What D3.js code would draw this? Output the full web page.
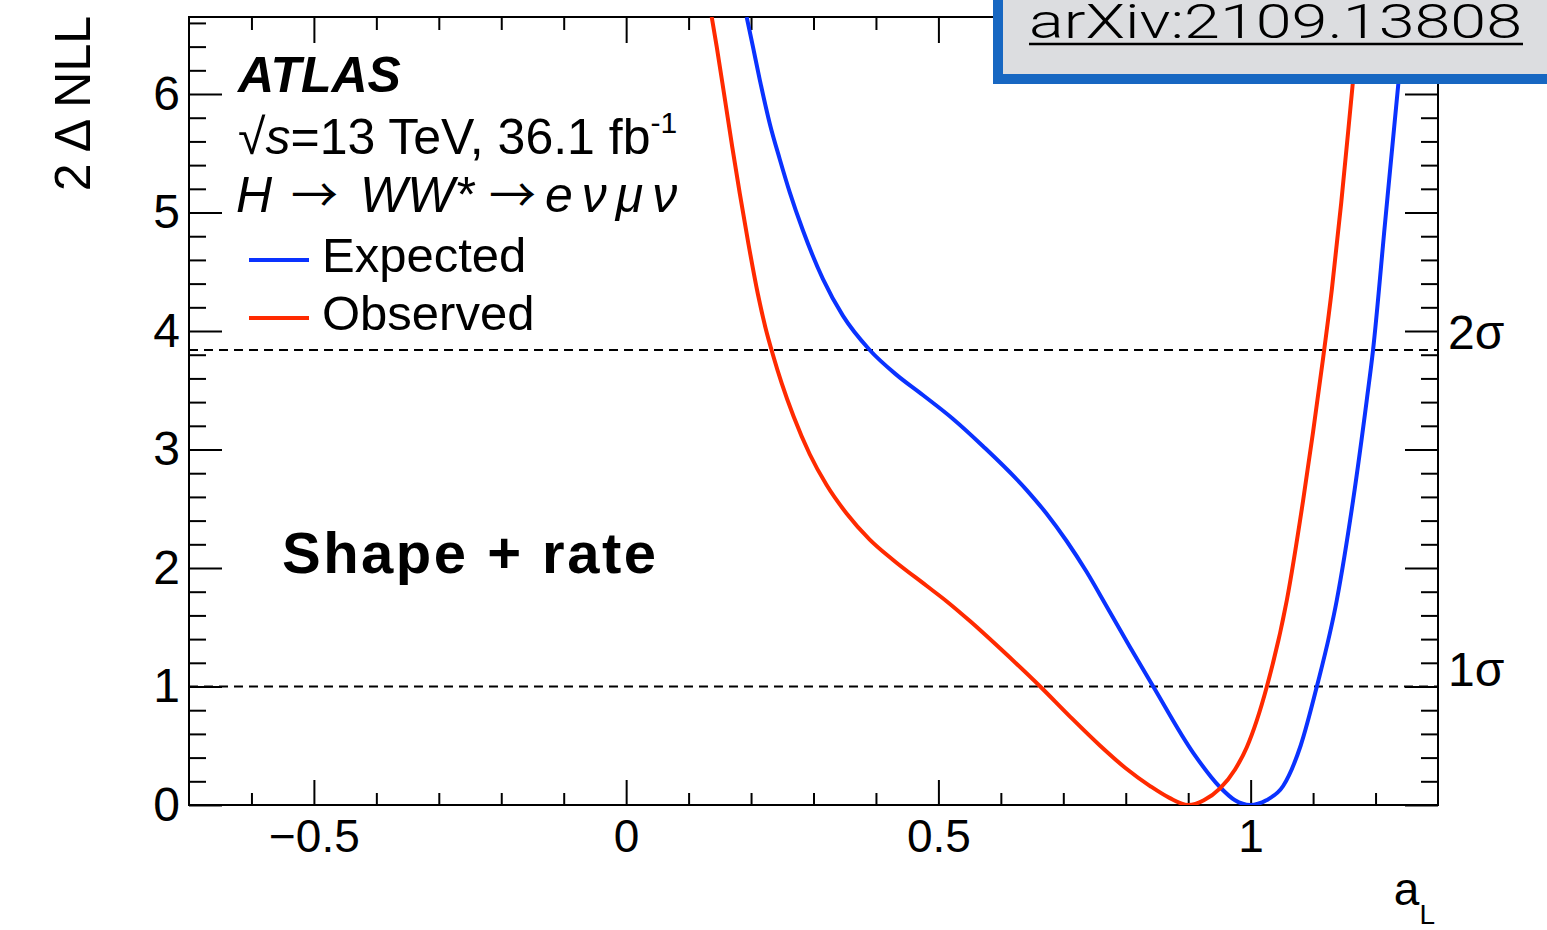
<!DOCTYPE html>
<html>
<head>
<meta charset="utf-8">
<script src="https://cdn.jsdelivr.net/npm/d3@7"></script>
<style>
  html, body { margin: 0; padding: 0; background: #fff; }
  svg { display: block; font-family: "Liberation Sans", Arial, Helvetica, sans-serif; }
</style>
</head>
<body>
<svg id="chart" width="1547" height="930"></svg>
<script>
// ---- data ----
const xDomain = [-0.7, 1.3];
const yDomain = [0, 6.65];

const xMajorTicks = [-0.5, 0, 0.5, 1];
const xTickLabels = ["\u22120.5", "0", "0.5", "1"];
const yMajorTicks = [0, 1, 2, 3, 4, 5, 6];
const yTickLabels = ["0", "1", "2", "3", "4", "5", "6"];

const sigmaLevels = [1.0, 3.84];
const sigmaLabels = ["1\u03C3", "2\u03C3"];

// Observed (red): a_L, 2ΔNLL
const obsX = [0.137, 0.145, 0.158, 0.170, 0.182, 0.196, 0.211, 0.223, 0.235, 0.249,
              0.268, 0.294, 0.321, 0.353, 0.390, 0.427, 0.481, 0.513, 0.551, 0.599,
              0.663, 0.710, 0.759, 0.800, 0.839, 0.870, 0.900, 0.925, 0.951, 0.975,
              0.994, 1.026, 1.058, 1.084, 1.100, 1.116, 1.130, 1.145, 1.163, 1.174];
const obsY = [6.65, 6.40, 5.96, 5.55, 5.16, 4.73, 4.31, 4.03, 3.80, 3.56,
              3.28, 2.96, 2.70, 2.46, 2.24, 2.07, 1.85, 1.72, 1.55, 1.32,
              1.00, 0.75, 0.50, 0.31, 0.16, 0.06, 0.00, 0.04, 0.14, 0.30,
              0.49, 1.00, 1.73, 2.57, 3.15, 3.77, 4.35, 5.08, 6.06, 6.65];

// Expected (blue)
const expX = [0.193, 0.203, 0.214, 0.230, 0.246, 0.262, 0.283, 0.315, 0.347, 0.390,
              0.433, 0.475, 0.523, 0.571, 0.641, 0.673, 0.705, 0.737, 0.769, 0.806,
              0.844, 0.908, 0.951, 0.975, 0.999, 1.025, 1.052, 1.080, 1.106, 1.138,
              1.164, 1.186, 1.196, 1.215, 1.236, 1.247];
const expY = [6.65, 6.40, 6.12, 5.75, 5.45, 5.17, 4.85, 4.44, 4.13, 3.84,
              3.63, 3.46, 3.26, 3.03, 2.66, 2.46, 2.23, 1.97, 1.68, 1.34,
              1.00, 0.44, 0.15, 0.04, 0.00, 0.04, 0.16, 0.50, 1.00, 1.73,
              2.57, 3.42, 3.84, 4.90, 6.06, 6.65];

const legendLabels = ["Expected", "Observed"];
const colors = { exp: "#0a32ff", obs: "#ff2a00" };

// ---- layout ----
const L = 189, R = 1438, T = 17, B = 805;
const svg = d3.select("#chart");

const x = d3.scaleLinear().domain(xDomain).range([L, R]);
const y = d3.scaleLinear().domain(yDomain).range([B, T]);

const xMinor = d3.range(-6, 13).map(d => d / 10).filter(v => !xMajorTicks.some(m => Math.abs(m - v) < 1e-9));
const yMinor = d3.range(0, 34).map(d => d / 5).filter(v => v <= yDomain[1] && !yMajorTicks.some(m => Math.abs(m - v) < 1e-9));

function styleAxis(g) {
  g.select(".domain").remove();
  g.selectAll(".tick line").attr("stroke", "#000").attr("stroke-width", 2);
}

// bottom axis
svg.append("g").attr("transform", `translate(0,${B})`)
  .call(d3.axisBottom(x).tickValues(xMajorTicks).tickSize(-25).tickPadding(14)
        .tickFormat((d, i) => xTickLabels[i]))
  .call(styleAxis)
  .call(g => g.selectAll("text").attr("font-size", 46).attr("fill", "#000")
        .attr("font-family", "'Liberation Sans', Arial, sans-serif"));
svg.append("g").attr("transform", `translate(0,${B})`)
  .call(d3.axisBottom(x).tickValues(xMinor).tickSize(-12).tickFormat(""))
  .call(styleAxis);
// top axis
svg.append("g").attr("transform", `translate(0,${T})`)
  .call(d3.axisTop(x).tickValues(xMajorTicks).tickSize(-26).tickFormat(""))
  .call(styleAxis);
svg.append("g").attr("transform", `translate(0,${T})`)
  .call(d3.axisTop(x).tickValues(xMinor).tickSize(-13).tickFormat(""))
  .call(styleAxis);
// left axis
svg.append("g").attr("transform", `translate(${L},0)`)
  .call(d3.axisLeft(y).tickValues(yMajorTicks).tickSize(-33).tickPadding(9)
        .tickFormat((d, i) => yTickLabels[i]))
  .call(styleAxis)
  .call(g => g.selectAll("text").attr("font-size", 48).attr("fill", "#000")
        .attr("font-family", "'Liberation Sans', Arial, sans-serif"));
svg.append("g").attr("transform", `translate(${L},0)`)
  .call(d3.axisLeft(y).tickValues(yMinor).tickSize(-17).tickFormat(""))
  .call(styleAxis);
// right axis
svg.append("g").attr("transform", `translate(${R},0)`)
  .call(d3.axisRight(y).tickValues(yMajorTicks).tickSize(-33).tickFormat(""))
  .call(styleAxis);
svg.append("g").attr("transform", `translate(${R},0)`)
  .call(d3.axisRight(y).tickValues(yMinor).tickSize(-17).tickFormat(""))
  .call(styleAxis);

// frame
svg.append("rect").attr("x", L).attr("y", T).attr("width", R - L).attr("height", B - T)
  .attr("fill", "none").attr("stroke", "#000").attr("stroke-width", 2);

// dashed sigma lines
svg.selectAll(".sig").data(sigmaLevels).enter().append("line")
  .attr("x1", L).attr("x2", R).attr("y1", d => y(d)).attr("y2", d => y(d))
  .attr("stroke", "#000").attr("stroke-width", 2).attr("stroke-dasharray", "9,6");
svg.selectAll(".sigl").data(sigmaLevels).enter().append("text")
  .attr("x", R + 10).attr("y", d => y(d) - 1)
  .attr("font-size", 48).text((d, i) => sigmaLabels[i]);

// clip
svg.append("clipPath").attr("id", "clip").append("rect")
  .attr("x", L).attr("y", T).attr("width", R - L).attr("height", B - T);

const line = d3.line().x(d => x(d[0])).y(d => y(d[1])).curve(d3.curveMonotoneX);
const expData = expX.map((v, i) => [v, expY[i]]);
const obsData = obsX.map((v, i) => [v, obsY[i]]);

svg.append("path").datum(expData).attr("d", line).attr("clip-path", "url(#clip)")
  .attr("fill", "none").attr("stroke", colors.exp).attr("stroke-width", 4)
  .attr("stroke-linejoin", "round");
svg.append("path").datum(obsData).attr("d", line).attr("clip-path", "url(#clip)")
  .attr("fill", "none").attr("stroke", colors.obs).attr("stroke-width", 4)
  .attr("stroke-linejoin", "round");

// axis titles
svg.append("text").attr("transform", "translate(90,16) rotate(-90)")
  .attr("text-anchor", "end").attr("font-size", 50).text("2 \u0394 NLL");
const at = svg.append("text").attr("x", R - 3).attr("y", 905).attr("text-anchor", "end");
at.append("tspan").attr("font-size", 46).text("a");
at.append("tspan").attr("font-size", 28).attr("dy", 19).text("L");

// ATLAS labels
svg.append("text").attr("x", 238).attr("y", 92).attr("font-size", 50)
  .attr("font-weight", "bold").attr("font-style", "italic").text("ATLAS");
const t2 = svg.append("text").attr("x", 238).attr("y", 154).attr("font-size", 50);
t2.append("tspan").text("\u221A");
t2.append("tspan").attr("font-style", "italic").text("s");
t2.append("tspan").text("=13 TeV, 36.1 fb");
t2.append("tspan").attr("font-size", 30).attr("dy", -21).text("-1");
const t3 = svg.append("text").attr("y", 212).attr("font-size", 50);
t3.append("tspan").attr("x", 236).attr("font-style", "italic").text("H");
t3.append("tspan").attr("x", 291).attr("font-family", "'Noto Sans CJK SC', 'DejaVu Sans', sans-serif")
  .attr("font-size", 47).text("\u2192");
t3.append("tspan").attr("x", 360).attr("font-style", "italic").text("WW*");
t3.append("tspan").attr("x", 489).attr("font-family", "'Noto Sans CJK SC', 'DejaVu Sans', sans-serif")
  .attr("font-size", 47).text("\u2192");
t3.append("tspan").attr("x", 545).attr("font-style", "italic").attr("letter-spacing", 9).text("e\u03BD\u03BC\u03BD");

// legend
const legY = [260, 318];
const legCol = [colors.exp, colors.obs];
legendLabels.forEach((lab, i) => {
  svg.append("line").attr("x1", 249).attr("x2", 309).attr("y1", legY[i]).attr("y2", legY[i])
    .attr("stroke", legCol[i]).attr("stroke-width", 4);
  svg.append("text").attr("x", 322).attr("y", legY[i] + 12)
    .attr("font-size", 49).text(lab);
});

svg.append("text").attr("x", 282).attr("y", 573).attr("font-size", 58).attr("font-weight", "bold")
  .attr("textLength", 374).attr("lengthAdjust", "spacing").text("Shape + rate");

// arXiv box
svg.append("rect").attr("x", 998).attr("y", -20).attr("width", 620).attr("height", 99)
  .attr("fill", "#dcdde0").attr("stroke", "#1767c2").attr("stroke-width", 10);
svg.append("text").attr("x", 1029).attr("y", 38).attr("font-size", 49)
  .attr("font-family", "Roboto, 'Open Sans', sans-serif").attr("font-weight", 300)
  .attr("textLength", 493).attr("lengthAdjust", "spacingAndGlyphs").text("arXiv:2109.13808");
svg.append("line").attr("x1", 1029).attr("x2", 1523).attr("y1", 44).attr("y2", 44)
  .attr("stroke", "#000").attr("stroke-width", 2.5);
</script>
</body>
</html>
